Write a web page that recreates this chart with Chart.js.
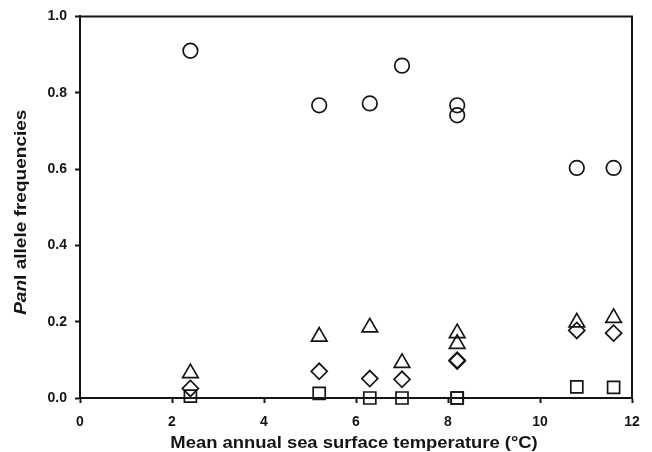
<!DOCTYPE html>
<html>
<head>
<meta charset="utf-8">
<script src="https://cdn.jsdelivr.net/npm/chart.js@4"></script>
<style>
  html, body { margin: 0; padding: 0; background: #fff; }
  #wrap { width: 652px; height: 452px; }
</style>
</head>
<body>
<div id="wrap"><canvas id="panChart" width="652" height="452"></canvas></div>
<script>
// sampling sites: mean annual SST (°C)
const temps = [2.4, 5.2, 6.3, 7.0, 8.2, 8.2, 10.8, 11.6];

// allele frequencies per site
const circleFreq   = [0.910, 0.767, 0.772, 0.871, 0.767, 0.741, 0.603, 0.603];
const triangleFreq = [0.065, 0.161, 0.185, 0.092, 0.170, 0.142, 0.198, 0.210];
const diamondFreq  = [0.025, 0.070, 0.051, 0.049, 0.099, 0.097, 0.177, 0.170];
const squareFreq   = [0.005, 0.012, 0.000, 0.000, 0.000, 0.000, 0.029, 0.028];

const xTicks = [0, 2, 4, 6, 8, 10, 12];
const yTicks = [0, 0.2, 0.4, 0.6, 0.8, 1.0];

const xTitle = 'Mean annual sea surface temperature (°C)';
// y title pieces: text + font style ("Pan" in italics)
const yTitleParts = [['Pan', 'italic bold'], ['I', 'bold'], [' allele frequencies', 'bold']];

const ink = '#151515';
const fontFam = '"Liberation Sans", Arial, sans-serif';

function pts(ys) {
    return temps.map((t, i) => ({ x: t, y: ys[i] }));
}

function series(label, ys, style, radius) {
    return {
        label: label,
        data: pts(ys),
        pointStyle: style,
        pointRadius: radius,
        pointHoverRadius: radius,
        pointBorderWidth: 1.7,
        borderColor: ink,
        backgroundColor: 'transparent',
        showLine: false,
        clip: false
    };
}

// box around the plot (top + right edges)
const framePlugin = {
    id: 'frame',
    afterDraw(chart) {
        const a = chart.chartArea, ctx = chart.ctx;
        ctx.save();
        ctx.strokeStyle = ink;
        ctx.lineWidth = 2;
        ctx.beginPath();
        ctx.moveTo(a.left, a.top);
        ctx.lineTo(a.right, a.top);
        ctx.lineTo(a.right, a.bottom);
        ctx.stroke();
        ctx.restore();
    }
};

// axis titles; the original lettering is a bit stretched along the text
const titlesPlugin = {
    id: 'titles',
    afterDraw(chart) {
        const a = chart.chartArea, ctx = chart.ctx;
        ctx.save();
        ctx.fillStyle = ink;
        ctx.textBaseline = 'alphabetic';

        // x title
        ctx.save();
        ctx.font = 'bold 16px ' + fontFam;
        ctx.textAlign = 'center';
        ctx.translate((a.left + a.right) / 2 - 2, 448);
        ctx.scale(1.15, 1);
        ctx.fillText(xTitle, 0, 0);
        ctx.restore();

        // y title, mixed italic
        const parts = yTitleParts.map(p => ({ t: p[0], f: p[1] + ' 16px ' + fontFam }));
        let total = 0;
        parts.forEach(p => { ctx.font = p.f; p.w = ctx.measureText(p.t).width; total += p.w; });
        ctx.translate(26, (a.top + a.bottom) / 2 + 5);
        ctx.rotate(-Math.PI / 2);
        ctx.scale(1.19, 1);
        ctx.textAlign = 'left';
        let x = -total / 2;
        parts.forEach(p => { ctx.font = p.f; ctx.fillText(p.t, x, 0); x += p.w; });
        ctx.restore();
    }
};

new Chart(document.getElementById('panChart').getContext('2d'), {
    type: 'scatter',
    data: {
        datasets: [
            series('circles', circleFreq, 'circle', 7.3),
            series('triangles', triangleFreq, 'triangle', 9),
            series('diamonds', diamondFreq, 'rectRot', 8),
            series('squares', squareFreq, 'rect', 8.5)
        ]
    },
    options: {
        responsive: false,
        animation: false,
        layout: { padding: { top: 13, right: 20, left: 0, bottom: 0 } },
        plugins: {
            legend: { display: false },
            tooltip: { enabled: false }
        },
        scales: {
            x: {
                type: 'linear',
                min: 0, max: 12,
                afterFit(s) { s.height = 54; },
                afterBuildTicks(s) { s.ticks = xTicks.map(v => ({ value: v })); },
                grid: { drawOnChartArea: false, tickLength: 5, tickWidth: 2, tickColor: ink },
                border: { display: true, color: ink, width: 2 },
                ticks: {
                    color: ink, padding: 11,
                    font: { family: fontFam, size: 14, weight: 'bold' },
                    maxRotation: 0
                }
            },
            y: {
                type: 'linear',
                min: 0, max: 1,
                afterFit(s) { s.width = 80; },
                afterBuildTicks(s) { s.ticks = yTicks.map(v => ({ value: v })); },
                grid: { drawOnChartArea: false, tickLength: 5, tickWidth: 2, tickColor: ink },
                border: { display: true, color: ink, width: 2 },
                ticks: {
                    color: ink, padding: 8,
                    font: { family: fontFam, size: 14, weight: 'bold' },
                    callback: v => v.toFixed(1)
                }
            }
        }
    },
    plugins: [framePlugin, titlesPlugin]
});
</script>
</body>
</html>
